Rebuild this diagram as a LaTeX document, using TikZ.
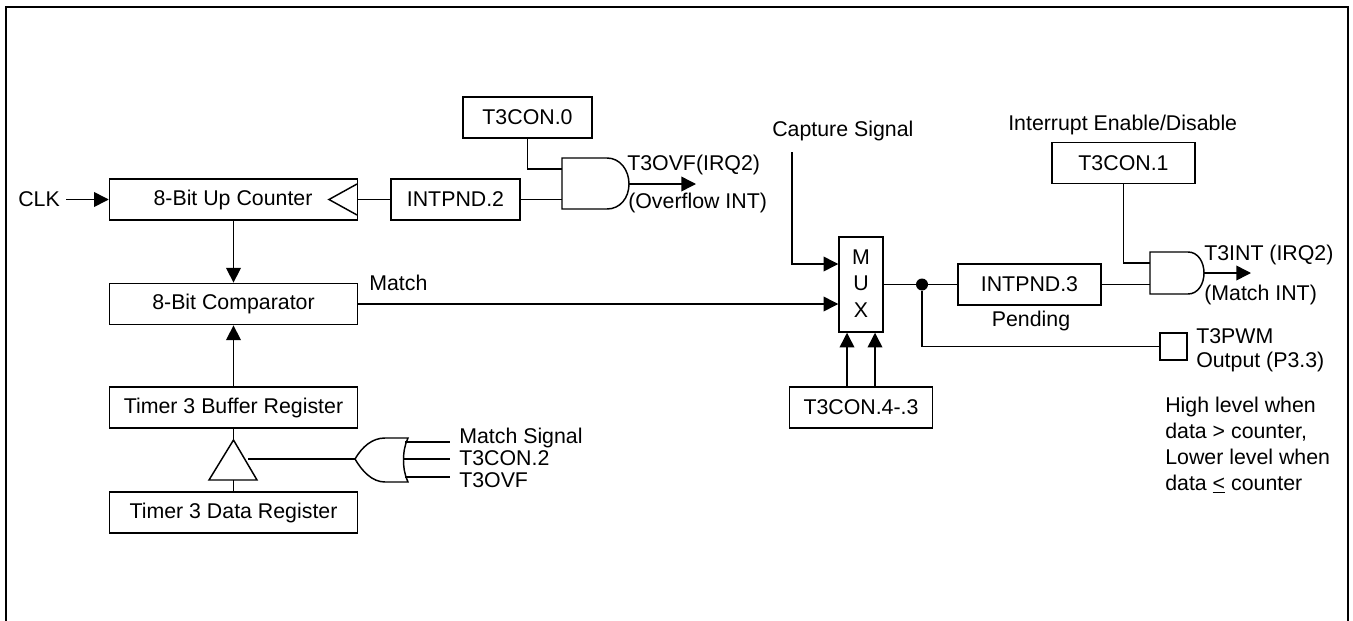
\documentclass[tikz,border=0pt]{standalone}
\usepackage{fontspec}
\setmainfont{Liberation Sans}
\usetikzlibrary{arrows.meta}
\tikzset{
  x=0.75pt,y=-0.75pt,
  wire/.style={line width=1.1pt,line join=miter},
  arr/.style={wire,-{Triangle[length=11pt,width=11pt]}},
  blk/.style={draw,line width=1.1pt,minimum height=31pt,inner sep=0pt,font=\fontsize{16}{18}\selectfont},
  lbl/.style={inner sep=0pt,font=\fontsize{16}{18}\selectfont},
  wlbl/.style={lbl,anchor=west},
  dotnode/.style={circle,fill,inner sep=0pt,minimum size=9pt},
}
\begin{document}
\begin{tikzpicture}
\useasboundingbox (0,0) rectangle (1353,621);
\draw[line width=1.5pt] (6,621) -- (6,7) -- (1348,7) -- (1348,621);
% blocks
\node[blk,minimum width=186pt] (cnt) at (233.5,199.5) {};
\node[lbl] (cntl) at (233,199.5) {8-Bit Up Counter};
\node[blk,minimum width=96.75pt] (ip2) at (455.5,199.5) {INTPND.2};
\node[blk,minimum width=96.75pt] (t0) at (527.5,117.5) {T3CON.0};
\node[blk,minimum width=186pt] (cmp) at (233.5,304) {8-Bit Comparator};
\node[blk,minimum width=186pt] (buf) at (233.5,407.5) {Timer 3 Buffer Register};
\node[blk,minimum width=186pt] (dat) at (233.5,512.5) {Timer 3 Data Register};
\node[blk,minimum width=33pt,minimum height=71.25pt] (mux) at (861,284.5) {};
\node[lbl] (mm) at (861,257) {M};
\node[lbl] (mu) at (861,283.5) {U};
\node[lbl] (mx) at (861,310) {X};
\node[blk,minimum width=107.25pt] (ip3) at (1029.5,284.5) {INTPND.3};
\node[blk,minimum width=107.25pt] (t1) at (1123.5,163) {T3CON.1};
\node[blk,minimum width=107.25pt] (t43) at (861,407.5) {T3CON.4-.3};
\node[draw,line width=1.1pt,minimum width=20.25pt,minimum height=20.25pt,inner sep=0pt] (pwm) at (1173.5,346.5) {};
% labels
\node[wlbl] (clk) at (18,199) {CLK};
\node[wlbl] (match) at (369,283) {Match};
\node[wlbl] (ovf) at (627,165) {T3OVF(IRQ2)};
\node[wlbl] (oint) at (628,203) {(Overflow INT)};
\node[wlbl] (cap) at (772,131) {Capture Signal};
\node[wlbl] (ied) at (1008,125) {Interrupt Enable/Disable};
\node[wlbl] (ti) at (1204,255) {T3INT (IRQ2)};
\node[wlbl] (mi) at (1204,295) {(Match INT)};
\node[lbl] (pend) at (1031,321) {Pending};
\node[wlbl] (tp) at (1196,336) {T3PWM};
\node[wlbl] (op) at (1196,362) {Output (P3.3)};
\node[wlbl,align=left,font=\fontsize{16}{19.5}\selectfont] (note) at (1165,445) {High level when\\data > counter,\\Lower level when\\data \underline{<} counter};
\node[wlbl] (ms) at (459,438) {Match Signal};
\node[wlbl] (t2) at (459,458) {T3CON.2};
\node[wlbl] (tov) at (459,480) {T3OVF};
% coordinates
\coordinate (clkout) at (66,199.5);
\coordinate (a1i1) at (562,169);
\coordinate (a1i2) at (562,199.5);
\coordinate (a1o) at (629,184);
\coordinate (a1t) at (696,184);
\coordinate (a2i1) at (1150,263);
\coordinate (a2i2) at (1150,284.5);
\coordinate (a2o) at (1204,273);
\coordinate (a2t) at (1251,273);
\coordinate (capt) at (792,152);
\coordinate (mi1) at (mux.west |- 0,264);
\coordinate (mib) at (mux.west |- cmp);
\coordinate (tapx) at (233.5,440);
\coordinate (tbas) at (233.5,480);
\coordinate (tout) at (248,459);
\coordinate (oro) at (355,459);
\coordinate (ori1) at (405,442);
\coordinate (ori2) at (404,459);
\coordinate (ori3) at (405,477);
\coordinate (ore1) at (450,442);
\coordinate (ore2) at (450,459);
\coordinate (ore3) at (450,477);
\node[dotnode] (dot) at (922,284.5) {};
% gates
\draw[wire] (562,158) -- (607,158) .. controls (620,158) and (629,170) .. (a1o) .. controls (629,198) and (620,209) .. (607,209) -- (562,209) -- cycle;
\draw[wire] (1150,252) -- (1188,252) .. controls (1198,252) and (1204,262) .. (a2o) .. controls (1204,284) and (1198,294) .. (1188,294) -- (1150,294) -- cycle;
\draw[wire] (oro) .. controls (362,447) and (372,438) .. (385,438) -- (408,438) .. controls (402,450) and (402,470) .. (408,482) -- (385,482) .. controls (372,482) and (362,471) .. (oro);
\draw[wire] (tapx) -- (209,480) -- (257,480) -- cycle;
\draw[wire] (357,184) -- (329,199.5) -- (357,215);
% connectors
\draw[arr] (clkout) -- (cnt.west);
\draw[wire] (ip2.west) -- (cnt.east);
\draw[arr] (cnt.south) -- (cmp.north);
\draw[arr] (buf.north) -- (cmp.south);
\draw[wire] (buf.south) -- (tapx);
\draw[wire] (dat.north) -- (tbas);
\draw[wire] (tout) -- (oro);
\draw[wire] (ori1) -- (ore1);
\draw[wire] (ori2) -- (ore2);
\draw[wire] (ori3) -- (ore3);
\draw[wire] (t0.south) |- (a1i1);
\draw[wire] (ip2.east) -- (a1i2);
\draw[arr] (a1o) -- (a1t);
\draw[arr] (cmp.east) -- (mib);
\draw[arr] (capt) |- (mi1);
\draw[arr] (t43.north -| 847,0) -- (mux.south -| 847,0);
\draw[arr] (t43.north -| 875,0) -- (mux.south -| 875,0);
\draw[wire] (mux.east) -- (dot);
\draw[wire] (dot) -- (ip3.west);
\draw[wire] (dot) |- (pwm.west);
\draw[wire] (t1.south) |- (a2i1);
\draw[wire] (ip3.east) -- (a2i2);
\draw[arr] (a2o) -- (a2t);
\end{tikzpicture}
\end{document}
